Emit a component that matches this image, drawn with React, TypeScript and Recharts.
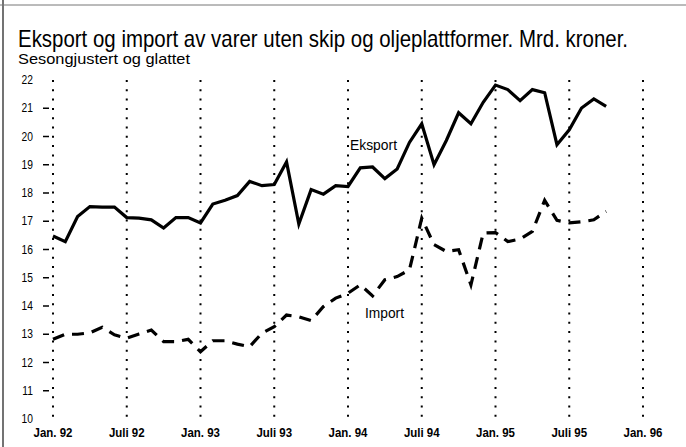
import React from 'react';
import { LineChart, Line, XAxis, YAxis, CartesianGrid } from 'recharts';

// month index from Jan 1992 (0) ... Oct 1995 (45)
const monthIndex = [
  0, 1, 2, 3, 4, 5, 6, 7, 8, 9, 10, 11,
  12, 13, 14, 15, 16, 17, 18, 19, 20, 21, 22, 23,
  24, 25, 26, 27, 28, 29, 30, 31, 32, 33, 34, 35,
  36, 37, 38, 39, 40, 41, 42, 43, 44, 45,
];

const eksport = [
  16.48, 16.28, 17.17, 17.52, 17.5, 17.5, 17.13, 17.11, 17.05, 16.76, 17.13, 17.13,
  16.94, 17.61, 17.74, 17.91, 18.41, 18.26, 18.3, 19.1, 16.9, 18.12, 17.96, 18.26,
  18.23, 18.89, 18.92, 18.51, 18.85, 19.79, 20.45, 19.0, 19.86, 20.84, 20.45, 21.21,
  21.82, 21.66, 21.27, 21.66, 21.55, 19.71, 20.24, 21.01, 21.33, 21.07,
];

const importVals = [
  12.82, 13.0, 13.0, 13.05, 13.25, 12.98, 12.86, 13.01, 13.15, 12.74, 12.74, 12.82,
  12.38, 12.77, 12.77, 12.65, 12.56, 13.04, 13.27, 13.68, 13.62, 13.48, 13.98, 14.28,
  14.45, 14.75, 14.36, 14.93, 15.04, 15.28, 17.11, 16.17, 15.93, 15.99, 14.75, 16.58,
  16.6, 16.28, 16.37, 16.64, 17.74, 17.03, 16.94, 16.98, 17.05, 17.35,
];

const xTicks = [0, 6, 12, 18, 24, 30, 36, 42, 48];
const xTickLabels = ['Jan. 92', 'Juli 92', 'Jan. 93', 'Juli 93', 'Jan. 94', 'Juli 94', 'Jan. 95', 'Juli 95', 'Jan. 96'];
const yTicks = [10, 11, 12, 13, 14, 15, 16, 17, 18, 19, 20, 21, 22];

const title = 'Eksport og import av varer uten skip og oljeplattformer. Mrd. kroner.';
const subtitle = 'Sesongjustert og glattet';
const seriesNames = ['Eksport', 'Import'];

const data = monthIndex.map((m, i) => ({ m, eksport: eksport[i], import: importVals[i] }));

const FONT = '"Liberation Sans", Arial, Helvetica, sans-serif';
const SQ = 0.82; // horizontal squeeze to mimic a narrow Helvetica

const LeftTick = (props: any) => {
  const { x, y, payload } = props;
  const v = payload.value;
  const showDash = v !== 10 && v !== 22;
  return (
    <g>
      {showDash && <line x1={x - 10} x2={x - 4} y1={y} y2={y} stroke="#000" strokeWidth={1.5} />}
      <text
        transform={`translate(${x - 20},${y + 4}) scale(${SQ},1)`}
        textAnchor="end"
        fontSize={12.5}
        fontFamily={FONT}
        fill="#000"
      >
        {v}
      </text>
    </g>
  );
};

const RightTick = (props: any) => {
  const { x, y, payload } = props;
  const v = payload.value;
  const showDash = v !== 10 && v !== 22;
  return (
    <g>
      {showDash && <line x1={x + 7} x2={x + 14} y1={y} y2={y} stroke="#000" strokeWidth={1.5} />}
      <text
        transform={`translate(${x + 16},${y + 4}) scale(${SQ},1)`}
        textAnchor="start"
        fontSize={12.5}
        fontFamily={FONT}
        fill="#000"
      >
        {v}
      </text>
    </g>
  );
};

const BottomTick = (props: any) => {
  const { x, y, payload } = props;
  const idx = xTicks.indexOf(payload.value);
  return (
    <text
      transform={`translate(${x},${y + 18}) scale(0.85,1)`}
      textAnchor="middle"
      fontSize={13.5}
      fontWeight="bold"
      fontFamily={FONT}
      fill="#000"
    >
      {xTickLabels[idx]}
    </text>
  );
};

export default function App() {
  return (
    <div style={{ position: 'fixed', left: 0, top: 0, width: 686, height: 447, background: '#fff' }}>
      <LineChart
        width={686}
        height={447}
        data={data}
        margin={{ top: 80, right: 0, bottom: 0, left: 0 }}
      >
        <CartesianGrid
          horizontal={false}
          vertical={true}
          stroke="#000"
          strokeWidth={2}
          strokeDasharray="2 7.3"
        />
        <XAxis
          dataKey="m"
          type="number"
          domain={[0, 48]}
          ticks={xTicks}
          interval={0}
          height={28}
          axisLine={false}
          tickLine={false}
          tickSize={0}
          tickMargin={0}
          tick={<BottomTick />}
        />
        <YAxis
          yAxisId="left"
          orientation="left"
          domain={[10, 22]}
          ticks={yTicks}
          interval={0}
          width={53}
          axisLine={false}
          tickLine={false}
          tickSize={0}
          tickMargin={0}
          tick={<LeftTick />}
        />
        <YAxis
          yAxisId="right"
          orientation="right"
          domain={[10, 22]}
          ticks={yTicks}
          interval={0}
          width={43}
          axisLine={false}
          tickLine={false}
          tickSize={0}
          tickMargin={0}
          tick={<RightTick />}
        />
        <Line
          yAxisId="left"
          type="linear"
          dataKey="eksport"
          name={seriesNames[0]}
          stroke="#000"
          strokeWidth={3.2}
          dot={false}
          isAnimationActive={false}
          strokeLinejoin="miter"
        />
        <Line
          yAxisId="left"
          type="linear"
          dataKey="import"
          name={seriesNames[1]}
          stroke="#000"
          strokeWidth={3.2}
          strokeDasharray="12 8"
          dot={false}
          isAnimationActive={false}
        />
      </LineChart>
      <svg
        width={686}
        height={447}
        style={{ position: 'absolute', left: 0, top: 0, pointerEvents: 'none' }}
      >
        <line x1={3} x2={3} y1={0} y2={447} stroke="#444" strokeWidth={1.5} />
        <line x1={0} x2={686} y1={5} y2={5} stroke="#777" strokeWidth={1} />
        <text x={18} y={47} fontSize={24} fontFamily={FONT} fill="#000" textLength={610} lengthAdjust="spacingAndGlyphs">
          {title}
        </text>
        <text x={18} y={64} fontSize={15} fontFamily={FONT} fill="#000" textLength={172} lengthAdjust="spacingAndGlyphs">
          {subtitle}
        </text>
        <text x={350} y={150} fontSize={15} fontFamily={FONT} fill="#000" textLength={47} lengthAdjust="spacingAndGlyphs">
          {seriesNames[0]}
        </text>
        <text x={365} y={318} fontSize={15} fontFamily={FONT} fill="#000" textLength={39} lengthAdjust="spacingAndGlyphs">
          {seriesNames[1]}
        </text>
      </svg>
    </div>
  );
}
